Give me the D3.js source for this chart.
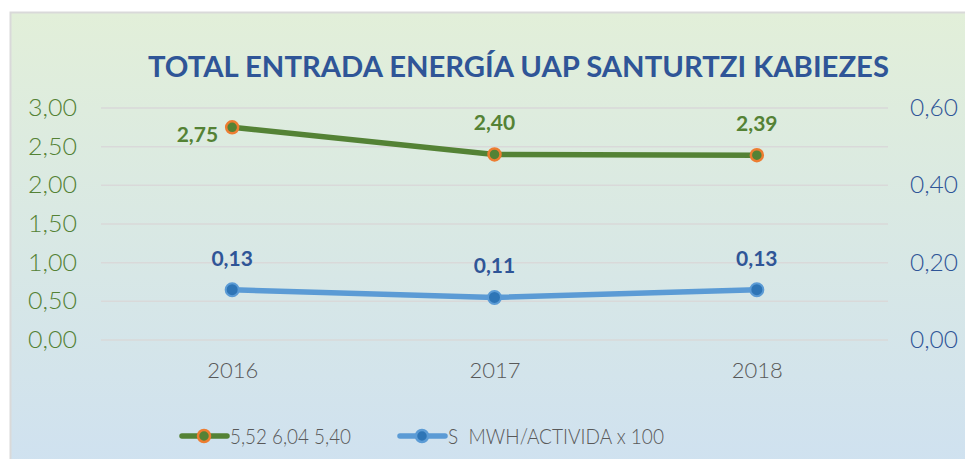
<!DOCTYPE html>
<html>
<head>
<meta charset="utf-8">
<script src="https://cdn.jsdelivr.net/npm/d3@7"></script>
<style>
  html, body { margin: 0; padding: 0; background: #fff; }
  svg { display: block; }
</style>
</head>
<body>
<div id="chart"></div>
<script>
var years = ["2016", "2017", "2018"];
var energia = [2.75, 2.40, 2.39];          // left axis
var porActividad = [0.13, 0.11, 0.13];     // right axis
var leftTicks = [0, 0.5, 1, 1.5, 2, 2.5, 3];
var rightTicks = [0, 0.2, 0.4, 0.6];
var title = "TOTAL ENTRADA ENERGÍA UAP SANTURTZI KABIEZES";
var legendNames = ["5,52 6,04 5,40", "S  MWH/ACTIVIDA x 100"];

function init(){

var w = 965;
var h = 459;
var left = 101, right = 888, top = 108, bottom = 340;

var fmt = function(v){ return d3.format(".2f")(v).replace(".", ","); };

let svg = d3.select("#chart")
            .append("svg")
            .attr("width", w)
            .attr("height", h);

var defs = svg.append("defs");
var grad = defs.append("linearGradient")
    .attr("id", "bg").attr("x1", 0).attr("y1", 0).attr("x2", 0).attr("y2", 1);
grad.append("stop").attr("offset", "0%").attr("stop-color", "#e2efd9");
grad.append("stop").attr("offset", "100%").attr("stop-color", "#cfe1f0");

svg.append("rect")
    .attr("x", 10.5).attr("y", 12.5)
    .attr("width", w).attr("height", h)
    .attr("fill", "url(#bg)")
    .attr("stroke", "#d9d9d9")
    .attr("stroke-width", 2);

svg.append("text")
    .attr("x", 148).attr("y", 77)
    .attr("textLength", 741)
    .attr("lengthAdjust", "spacingAndGlyphs")
    .attr("font-family", "Lato, 'DejaVu Sans', sans-serif")
    .attr("font-weight", "bold")
    .attr("font-size", 29)
    .attr("fill", "#2f5597")
    .text(title);

var x = d3.scalePoint().domain(years).range([left, right]).padding(0.5);
var yL = d3.scaleLinear().domain([0, 3]).range([bottom, top]);
var yR = d3.scaleLinear().domain([0, 0.6]).range([bottom, top]);

// gridlines
svg.append("g")
    .selectAll("line")
    .data(leftTicks)
    .enter()
    .append("line")
    .attr("x1", left).attr("x2", right)
    .attr("y1", function(d){ return yL(d); })
    .attr("y2", function(d){ return yL(d); })
    .attr("stroke", "#d9d9d9")
    .attr("stroke-width", 1.5);

// left axis
var axL = svg.append("g")
    .attr("transform", "translate(" + (left - 24) + ",0)")
    .call(d3.axisLeft(yL).tickValues(leftTicks).tickFormat(fmt).tickSize(0).tickPadding(0));
axL.select(".domain").remove();
axL.selectAll("text")
    .attr("textLength", 49)
    .attr("lengthAdjust", "spacingAndGlyphs")
    .attr("font-family", "Lato, 'DejaVu Sans', sans-serif")
    .attr("font-weight", 300)
    .attr("font-size", 23)
    .attr("fill", "#548235");

// right axis
var axR = svg.append("g")
    .attr("transform", "translate(" + (right + 22) + ",0)")
    .call(d3.axisRight(yR).tickValues(rightTicks).tickFormat(fmt).tickSize(0).tickPadding(0));
axR.select(".domain").remove();
axR.selectAll("text")
    .attr("textLength", 48)
    .attr("lengthAdjust", "spacingAndGlyphs")
    .attr("font-family", "Lato, 'DejaVu Sans', sans-serif")
    .attr("font-weight", 300)
    .attr("font-size", 23)
    .attr("fill", "#2f5597");

// x axis
var axX = svg.append("g")
    .attr("transform", "translate(0," + (bottom + 22) + ")")
    .call(d3.axisBottom(x).tickSize(0).tickPadding(0));
axX.select(".domain").remove();
axX.selectAll("text")
    .attr("dy", "0.71em")
    .attr("font-family", "Lato, 'DejaVu Sans', sans-serif")
    .attr("font-weight", 300)
    .attr("font-size", 22)
    .attr("fill", "#595959");

var lineL = d3.line()
    .x(function(d, i){ return x(years[i]); })
    .y(function(d){ return yL(d); });
var lineR = d3.line()
    .x(function(d, i){ return x(years[i]); })
    .y(function(d){ return yR(d); });

// blue series
svg.append("path")
    .datum(porActividad)
    .attr("d", lineR)
    .attr("fill", "none")
    .attr("stroke", "#5b9bd5")
    .attr("stroke-width", 5.5)
    .attr("stroke-linecap", "round");
svg.selectAll(".dotB")
    .data(porActividad)
    .enter()
    .append("circle")
    .attr("cx", function(d, i){ return x(years[i]); })
    .attr("cy", function(d){ return yR(d); })
    .attr("r", 6.5)
    .attr("fill", "#2e75b6")
    .attr("stroke", "#5b9bd5")
    .attr("stroke-width", 2);
svg.selectAll(".lblB")
    .data(porActividad)
    .enter()
    .append("text")
    .text(function(d){ return fmt(d); })
    .attr("x", function(d, i){ return x(years[i]); })
    .attr("y", function(d){ return yR(d) - 24; })
    .attr("text-anchor", "middle")
    .attr("font-family", "Lato, 'DejaVu Sans', sans-serif")
    .attr("font-weight", "bold")
    .attr("font-size", 21)
    .attr("fill", "#2f5597");

// green series
svg.append("path")
    .datum(energia)
    .attr("d", lineL)
    .attr("fill", "none")
    .attr("stroke", "#548235")
    .attr("stroke-width", 5.5);
svg.selectAll(".dotG")
    .data(energia)
    .enter()
    .append("circle")
    .attr("cx", function(d, i){ return x(years[i]); })
    .attr("cy", function(d){ return yL(d); })
    .attr("r", 6)
    .attr("fill", "#548235")
    .attr("stroke", "#ed7d31")
    .attr("stroke-width", 2.5);
svg.selectAll(".lblG")
    .data(energia)
    .enter()
    .append("text")
    .text(function(d){ return fmt(d); })
    .attr("x", function(d, i){ return i == 0 ? x(years[i]) - 14 : x(years[i]); })
    .attr("y", function(d, i){ return i == 0 ? yL(d) + 15 : yL(d) - 24; })
    .attr("text-anchor", function(d, i){ return i == 0 ? "end" : "middle"; })
    .attr("font-family", "Lato, 'DejaVu Sans', sans-serif")
    .attr("font-weight", "bold")
    .attr("font-size", 21)
    .attr("fill", "#548235");

// legend
var legend = [
    { name: legendNames[0], x: 182, len: 121, line: "#548235", fill: "#548235", ring: "#ed7d31" },
    { name: legendNames[1], x: 400, len: 216, line: "#5b9bd5", fill: "#2e75b6", ring: "#5b9bd5" }
];
var lg = svg.selectAll(".legend")
    .data(legend)
    .enter()
    .append("g")
    .attr("transform", function(d){ return "translate(" + d.x + ",436)"; });
lg.append("line")
    .attr("x1", 0).attr("x2", 45)
    .attr("stroke", function(d){ return d.line; })
    .attr("stroke-width", 5.5)
    .attr("stroke-linecap", "round");
lg.append("circle")
    .attr("cx", 22).attr("r", 6)
    .attr("fill", function(d){ return d.fill; })
    .attr("stroke", function(d){ return d.ring; })
    .attr("stroke-width", 2.5);
lg.append("text")
    .attr("x", 48).attr("dy", "0.35em")
    .attr("textLength", function(d){ return d.len; })
    .attr("lengthAdjust", "spacingAndGlyphs")
    .attr("font-family", "Lato, 'DejaVu Sans', sans-serif")
    .attr("font-weight", 300)
    .attr("font-size", 22)
    .attr("fill", "#595959")
    .attr("xml:space", "preserve")
    .style("white-space", "pre")
    .text(function(d){ return d.name; });
}

window.onload = init;
</script>
</body>
</html>
